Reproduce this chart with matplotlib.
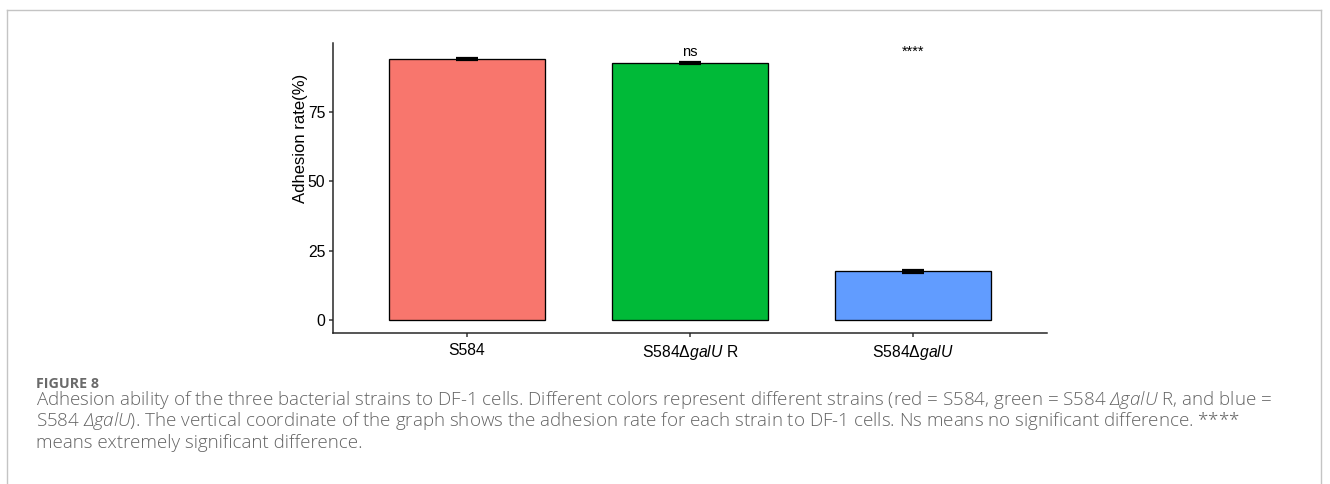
import matplotlib
matplotlib.use("Agg")
import matplotlib.pyplot as plt
from matplotlib.lines import Line2D

# data
strains = ["S584", r"S584Δ$\mathit{galU}$ R", r"S584Δ$\mathit{galU}$"]
adhesion = [94.0, 92.3, 17.6]
adhesion_sd = [0.4, 0.4, 0.4]
bar_colors = ["#F8766D", "#00BA38", "#619CFF"]
signif = ["", "ns", "****"]
yticks = [0, 25, 50, 75]

caption_title = "FIGURE 8"
caption_lines = [
    r"Adhesion ability of the three bacterial strains to DF-1 cells. Different colors represent different strains "
    r"(red = S584, green = S584 $\mathsf{ΔgalU}$ R, and blue =",
    r"S584 $\mathsf{ΔgalU}$). The vertical coordinate of the graph shows the adhesion rate for each strain to DF-1 cells. "
    r"Ns means no significant difference. ****",
    "means extremely significant difference.",
]

plt.rcParams["font.family"] = ["Liberation Sans", "DejaVu Sans"]
plt.rcParams["mathtext.fontset"] = "custom"
plt.rcParams["mathtext.rm"] = "Liberation Sans"
plt.rcParams["mathtext.it"] = "Liberation Sans:italic"
plt.rcParams["mathtext.sf"] = "Open Sans:italic:light"

W, H = 1330, 484
fig = plt.figure(figsize=(W / 100, H / 100), dpi=100)

# outer frame of the figure panel
frame = dict(color="#c4c4c4", linewidth=1.0, transform=fig.transFigure)
fig.add_artist(Line2D([6.5 / W, 6.5 / W], [0, 1 - 9.5 / H], **frame))
fig.add_artist(Line2D([6.5 / W, 1321 / W], [1 - 9.5 / H, 1 - 9.5 / H], **frame))
fig.add_artist(Line2D([1321 / W, 1321 / W], [0, 1 - 9.5 / H], **frame))

ax = fig.add_axes([333 / W, 1 - 333.3 / H, (1046.7 - 333) / W, (333.3 - 43.3) / H])
x = list(range(len(strains)))
ax.bar(x, adhesion, width=0.7, color=bar_colors, edgecolor="black", linewidth=0.95, zorder=2)
ax.errorbar(x, adhesion, yerr=adhesion_sd, fmt="none", ecolor="black",
            elinewidth=1.5, capsize=7.9, capthick=1.6, zorder=3)
for xi, s in zip(x, signif):
    ax.text(xi, 95, s, ha="center", va="baseline", fontsize=10.5)

ax.set_xlim(-0.6, 2.6)
ax.set_ylim(-4.6, 99.5)
ax.set_xticks(x)
ax.set_xticklabels(strains)
ax.set_yticks(yticks)
ax.set_ylabel("Adhesion rate(%)", fontsize=12)
ax.yaxis.set_label_coords(-0.035, 0.672)
ax.tick_params(axis="both", labelsize=11.3, width=1.08, length=2.9, color="#333333")
ax.tick_params(axis="x", pad=4.0)
ax.tick_params(axis="y", pad=2.6)
for side in ["top", "right"]:
    ax.spines[side].set_visible(False)
for side in ["left", "bottom"]:
    ax.spines[side].set_linewidth(1.08)
    ax.spines[side].set_color("#222222")

# caption
fig.text(36 / W, 1 - 388 / H, caption_title, family="Open Sans", weight="bold",
         fontsize=10.3, color="#6a6a6a", ha="left", va="baseline")
for i, line in enumerate(caption_lines):
    fig.text(36 / W, 1 - (405 + 21.3 * i) / H, line, family="Open Sans", weight="light",
             fontsize=13.5, color="#646464", ha="left", va="baseline")

fig.savefig("out.png", dpi=100)
